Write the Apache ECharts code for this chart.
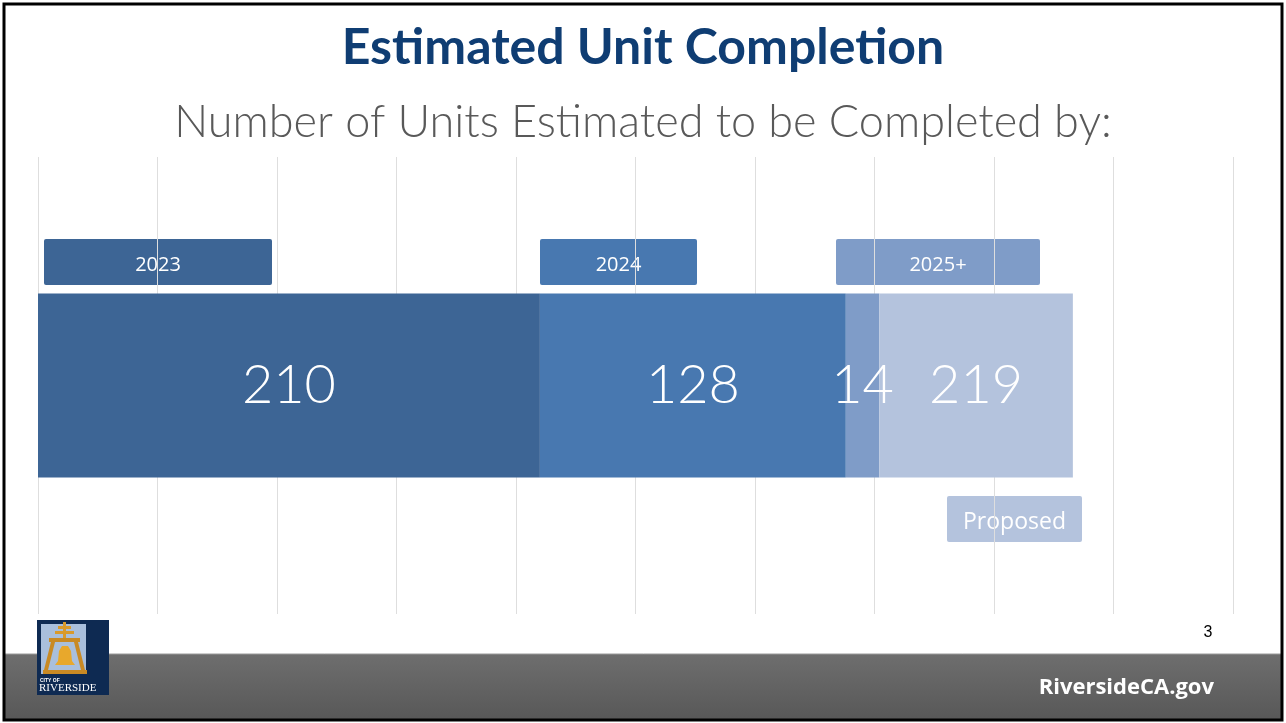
<!DOCTYPE html>
<html>
<head>
<meta charset="utf-8">
<script src="https://cdn.jsdelivr.net/npm/echarts@6/dist/echarts.min.js"></script>
<style>
  html, body { margin: 0; padding: 0; background: #fff; }
  #chart { width: 1286px; height: 723px; }
</style>
</head>
<body>
<div id="chart"></div>
<script>
// stacked segments, left to right (lengths)
const segmentNames = ['2023', '2024', '2025+', 'Proposed'];
const segmentValues = [210, 128, 14, 81];
const segmentLabels = ['210', '128', '14', '219'];
const segmentColors = ['#3d6595', '#4878b0', '#7f9cc8', '#b4c3dd'];
const axisMax = 500;
const axisStep = 50;

const chart = echarts.init(document.getElementById('chart'));

const tagBox = (x, y, w, h, fill, text, size) => ({
  type: 'group',
  x: x,
  y: y,
  children: [
    { type: 'rect', shape: { x: 0, y: 0, width: w, height: h, r: 2 }, style: { fill: fill } },
    {
      type: 'text',
      x: w / 2,
      y: h / 2 + 3,
      style: {
        text: text, fill: '#fff', align: 'center', verticalAlign: 'middle',
        font: 'normal ' + size + 'px "Open Sans", sans-serif'
      }
    }
  ]
});

const option = {
  animation: false,
  title: [
    {
      text: 'Estimated Unit Completion',
      left: 'center',
      top: 18,
      textStyle: { fontFamily: 'Lato', fontWeight: 'bold', fontSize: 50, color: '#0f3d73' }
    },
    {
      text: 'Number of Units Estimated to be Completed by:',
      left: 'center',
      top: 95,
      textStyle: { fontFamily: 'Lato', fontWeight: 300, fontSize: 45, color: '#595959' }
    }
  ],
  grid: { left: 38, right: 53, top: 157, bottom: 109 },
  xAxis: {
    type: 'value',
    min: 0,
    max: axisMax,
    interval: axisStep,
    axisLine: { show: false },
    axisTick: { show: false },
    axisLabel: { show: false },
    splitLine: { lineStyle: { color: '#dedede', width: 1 } }
  },
  yAxis: {
    type: 'category',
    data: ['Units'],
    axisLine: { show: false },
    axisTick: { show: false },
    axisLabel: { show: false }
  },
  series: segmentNames.map((name, i) => ({
    name: name,
    type: 'bar',
    stack: 'units',
    barWidth: 184,
    data: [segmentValues[i]],
    itemStyle: { color: segmentColors[i] },
    label: {
      show: true,
      position: 'inside',
      formatter: () => segmentLabels[i],
      color: '#fff',
      fontFamily: 'Lato',
      fontWeight: 300,
      fontSize: 54
    }
  })),
  graphic: [
    tagBox(44, 239, 228, 46, segmentColors[0], segmentNames[0], 20),
    tagBox(540, 239, 157, 46, segmentColors[1], segmentNames[1], 20),
    tagBox(836, 239, 204, 46, segmentColors[2], segmentNames[2], 20),
    tagBox(947, 496, 135, 46, segmentColors[3], segmentNames[3], 23),
    // footer band
    {
      type: 'rect',
      shape: { x: 5, y: 654, width: 1277, height: 65 },
      style: {
        fill: new echarts.graphic.LinearGradient(0, 0, 0, 1, [
          { offset: 0, color: '#6e6e6e' },
          { offset: 1, color: '#585858' }
        ])
      }
    },
    { type: 'line', shape: { x1: 5, y1: 654, x2: 1282, y2: 654 }, style: { stroke: '#9a9a9a', lineWidth: 1 } },
    {
      type: 'text',
      x: 1214,
      y: 688,
      style: {
        text: 'RiversideCA.gov', fill: '#fff', align: 'right', verticalAlign: 'middle',
        font: 'bold 22px "Open Sans", sans-serif'
      }
    },
    {
      type: 'text',
      x: 1208,
      y: 633,
      style: { text: '3', fill: '#000', align: 'center', verticalAlign: 'middle', font: '16px "Liberation Sans", Arial' }
    },
    // logo
    {
      type: 'group',
      x: 37,
      y: 620,
      z: 10,
      children: [
        { type: 'rect', shape: { x: 0, y: 0, width: 72, height: 75 }, style: { fill: '#0e2a52' } },
        { type: 'rect', shape: { x: 4, y: 4, width: 45, height: 50 }, style: { fill: '#a9bfdc' } },
        { type: 'rect', shape: { x: 26, y: 2, width: 3, height: 16 }, style: { fill: '#d99a2b' } },
        { type: 'rect', shape: { x: 21, y: 6, width: 13, height: 3 }, style: { fill: '#d99a2b' } },
        { type: 'rect', shape: { x: 18, y: 11, width: 19, height: 3 }, style: { fill: '#d99a2b' } },
        { type: 'rect', shape: { x: 12, y: 18, width: 31, height: 4 }, style: { fill: '#c98a24' } },
        { type: 'polygon', shape: { points: [[14, 22], [18, 22], [11, 50], [7, 50]] }, style: { fill: '#c98a24' } },
        { type: 'polygon', shape: { points: [[37, 22], [41, 22], [48, 50], [44, 50]] }, style: { fill: '#c98a24' } },
        { type: 'rect', shape: { x: 6, y: 50, width: 44, height: 4 }, style: { fill: '#c98a24' } },
        {
          type: 'polygon',
          shape: { points: [[18, 45], [21, 41], [22, 31], [25, 26], [31, 26], [34, 31], [35, 41], [38, 45]] },
          style: { fill: '#e8a82c' }
        },
        {
          type: 'text', x: 3, y: 58,
          style: { text: 'CITY OF', fill: '#fff', font: 'bold 5px sans-serif' }
        },
        {
          type: 'text', x: 2, y: 63,
          style: { text: 'RIVERSIDE', fill: '#fff', font: '11px "Liberation Serif", serif' }
        }
      ]
    },
    // slide frame
    {
      type: 'rect',
      shape: { x: 4, y: 4, width: 1278, height: 716 },
      style: { fill: 'none', stroke: '#000', lineWidth: 3 },
      z: 100
    }
  ]
};

chart.setOption(option);
</script>
</body>
</html>
